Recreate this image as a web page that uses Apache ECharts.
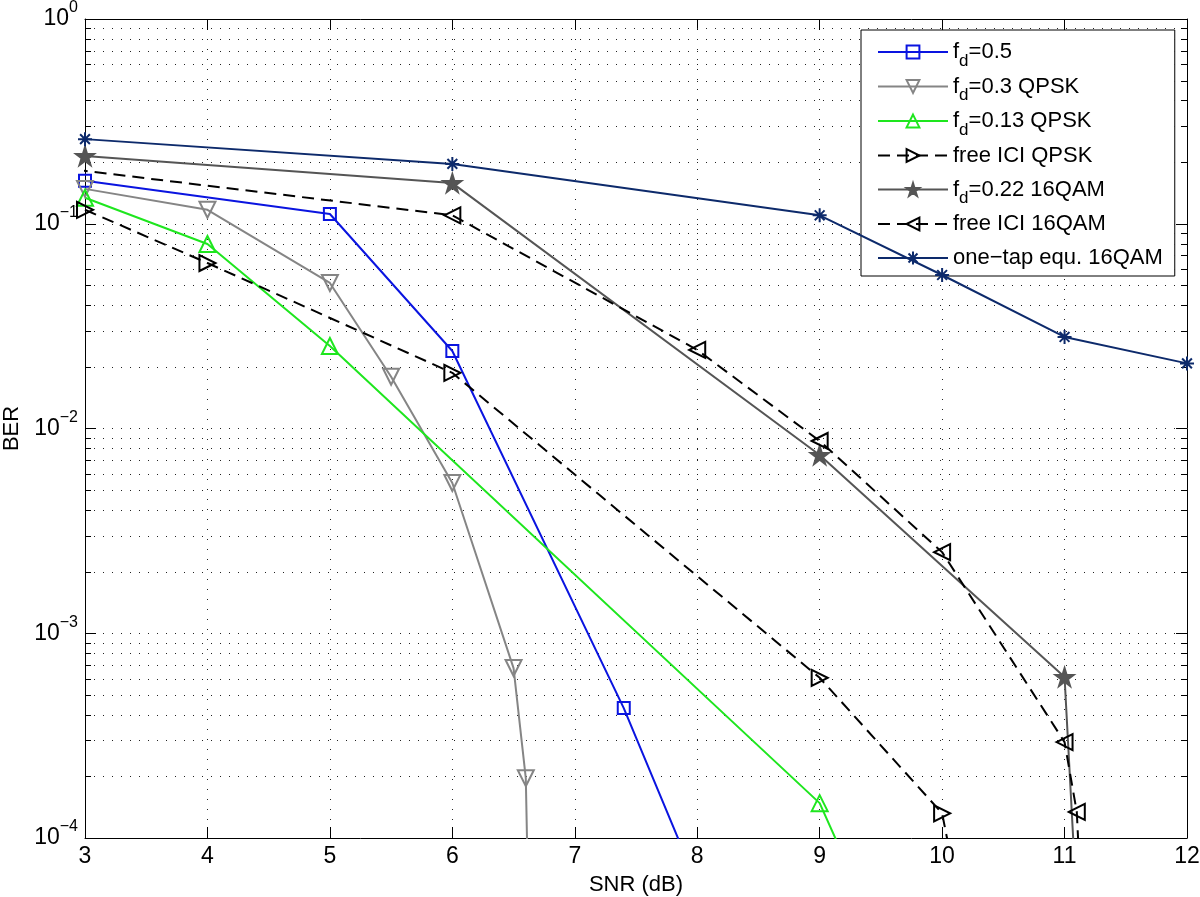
<!DOCTYPE html>
<html><head><meta charset="utf-8">
<script src="https://cdn.jsdelivr.net/npm/echarts@6/dist/echarts.min.js"></script>
<style>html,body{margin:0;padding:0;background:#fff}#c{width:1200px;height:897px}</style>
</head><body><div id="c"></div><script>
// ---- data ----
const seriesNames = ['f_d=0.5', 'f_d=0.3 QPSK', 'f_d=0.13 QPSK', 'free ICI QPSK', 'f_d=0.22 16QAM', 'free ICI 16QAM', 'one\u2212tap equ. 16QAM'];
const snrFd05 = [3, 5, 6, 7.4, 7.91];
const berFd05 = [0.162, 0.1116, 0.0239, 4.31e-4, 0.8e-4];
const snrFd03 = [3, 4, 5, 5.5, 6, 6.5, 6.6, 6.613];
const berFd03 = [0.148, 0.117, 0.0514, 0.0179, 0.00542, 6.76e-4, 1.96e-4, 0.8e-4];
const snrFd013 = [3, 4, 5, 9, 9.2];
const berFd013 = [0.134, 0.0796, 0.0253, 1.48e-4, 0.8e-4];
const snrFreeQpsk = [3, 4, 6, 9, 10, 10.072];
const berFreeQpsk = [0.117, 0.0643, 0.0187, 6.06e-4, 1.32e-4, 0.8e-4];
const snrFd022 = [3, 6, 9, 11, 11.079];
const berFd022 = [0.214, 0.158, 0.00742, 6.11e-4, 0.8e-4];
const snrFree16 = [2, 6, 8, 9, 10, 11, 11.1, 11.118];
const berFree16 = [0.214, 0.110, 0.0242, 0.00869, 0.00249, 2.94e-4, 1.34e-4, 0.8e-4];
const snrOneTap = [3, 6, 9, 10, 11, 12];
const berOneTap = [0.259, 0.196, 0.110, 0.0562, 0.0280, 0.0208];
const xTicks = [3, 4, 5, 6, 7, 8, 9, 10, 11, 12];
const minorBer = [];
[1e-4, 1e-3, 1e-2, 1e-1].forEach(d => { for (let k = 2; k <= 9; k++) minorBer.push(+(k * d).toPrecision(3)); });

// ---- styling ----
const FONT = '"Liberation Sans", Arial, Helvetica, sans-serif';
const starPath = 'path://M5 0 L6.12 3.45 L9.76 3.45 L6.82 5.59 L7.94 9.05 L5 6.91 L2.06 9.05 L3.18 5.59 L0.24 3.45 L3.88 3.45 Z';
const asteriskPath = 'path://M0 5 L10 5 M5 0 L5 10 M1.5 1.5 L8.5 8.5 M8.5 1.5 L1.5 8.5';
const zip = (xs, ys) => xs.map((x, i) => [x, ys[i]]);

function lineSeries(name, xs, ys, color, symbol, size, rotate, dashed, filled) {
  return {
    name, type: 'line', data: zip(xs, ys), clip: true,
    symbol, symbolSize: size, symbolRotate: rotate, showAllSymbol: true,
    lineStyle: { color, width: 2, type: dashed ? [12, 7] : 'solid' },
    itemStyle: { color: filled ? color : 'rgba(255,255,255,0)', borderColor: color, borderWidth: 2 },
    emphasis: { disabled: true }, z: 5
  };
}

const chart = echarts.init(document.getElementById('c'), null, { renderer: 'canvas' });
const yFmt = v => '{b|10}{s|' + String(Math.round(Math.log10(v))).replace('-', '\u2212') + '}';
const axisCommon = {
  axisLine: { show: true, onZero: false, lineStyle: { color: '#000', width: 1 } },
  axisTick: { show: true, inside: true, length: 11, lineStyle: { color: '#000', width: 1 } }
};
chart.setOption({
  animation: false,
  backgroundColor: '#fff',
  textStyle: { fontFamily: FONT },
  grid: { left: 85, right: 13, top: 19, bottom: 59, containLabel: false, outerBoundsMode: 'none' },
  xAxis: [
    Object.assign({
      type: 'value', min: xTicks[0], max: xTicks[xTicks.length - 1], interval: 1,
      name: 'SNR (dB)', nameLocation: 'middle', nameGap: 36,
      nameTextStyle: { fontSize: 22, color: '#000', fontFamily: FONT },
      axisLabel: { fontSize: 23, color: '#000', margin: 7, fontFamily: FONT },
      splitLine: { show: true, lineStyle: { color: '#222', width: 1, type: [1, 9] } }
    }, axisCommon),
    Object.assign({
      type: 'value', position: 'top', min: xTicks[0], max: xTicks[xTicks.length - 1], interval: 1,
      axisLabel: { show: false }, splitLine: { show: false }
    }, axisCommon)
  ],
  yAxis: [
    Object.assign({
      type: 'log', logBase: 10, min: 1e-4, max: 1,
      name: 'BER', nameLocation: 'middle', nameGap: 57,
      nameTextStyle: { fontSize: 22, color: '#000', fontFamily: FONT },
      axisLabel: {
        formatter: yFmt, margin: 7, color: '#000',
        rich: {
          b: { fontSize: 23, color: '#000', fontFamily: FONT, verticalAlign: 'middle' },
          s: { fontSize: 16, color: '#000', fontFamily: FONT, verticalAlign: 'middle', padding: [0, 0, 22, 0] }
        }
      },
      splitLine: { show: true, lineStyle: { color: '#222', width: 1, type: [1, 8] } }
    }, axisCommon),
    Object.assign({
      type: 'log', logBase: 10, min: 1e-4, max: 1, position: 'right',
      axisLabel: { show: false }, splitLine: { show: false }
    }, axisCommon)
  ],
  legend: {
    data: seriesNames,
    orient: 'vertical', left: 861, top: 30,
    backgroundColor: '#fff', borderColor: '#000', borderWidth: 1, borderRadius: 0,
    padding: [5, 12, 1, 16],
    itemWidth: 70, itemHeight: 16, itemGap: 0,
    selectedMode: false,
    formatter: n => n.indexOf('f_d') === 0 ? '{n|f}{sub|d}{n|' + n.slice(3) + '}' : '{n|' + n + '}',
    textStyle: {
      fontSize: 22, color: '#000', fontFamily: FONT, lineHeight: 34,
      rich: {
        n: { fontSize: 22, color: '#000', fontFamily: FONT, verticalAlign: 'middle' },
        sub: { fontSize: 17, color: '#000', fontFamily: FONT, verticalAlign: 'middle', padding: [18, 0, 0, 0] }
      }
    }
  },
  series: [
    {
      type: 'custom', name: 'minor', silent: true, z: 1,
      data: minorBer.map(v => [xTicks[0], v]),
      encode: { x: 0, y: 1 },
      renderItem: (params, api) => {
        const cs = params.coordSys;
        const y = Math.round(api.coord([api.value(0), api.value(1)])[1]) + 0.5;
        return {
          type: 'group', children: [
            { type: 'line', shape: { x1: cs.x, y1: y, x2: cs.x + cs.width, y2: y }, style: { stroke: '#222', lineWidth: 1, lineDash: [1, 8] } },
            { type: 'line', shape: { x1: cs.x, y1: y, x2: cs.x + 6, y2: y }, style: { stroke: '#000', lineWidth: 1 } },
            { type: 'line', shape: { x1: cs.x + cs.width - 6, y1: y, x2: cs.x + cs.width, y2: y }, style: { stroke: '#000', lineWidth: 1 } }
          ]
        };
      }
    },
    lineSeries(seriesNames[0], snrFd05, berFd05, '#0a14e0', 'rect', 12, 0, false, false),
    lineSeries(seriesNames[1], snrFd03, berFd03, '#858585', 'triangle', 16, 180, false, false),
    lineSeries(seriesNames[2], snrFd013, berFd013, '#1ee61e', 'triangle', 16, 0, false, false),
    lineSeries(seriesNames[3], snrFreeQpsk, berFreeQpsk, '#000000', 'triangle', 16, -90, true, false),
    lineSeries(seriesNames[4], snrFd022, berFd022, '#555555', starPath, 18, 0, false, true),
    lineSeries(seriesNames[5], snrFree16, berFree16, '#000000', 'triangle', 16, 90, true, false),
    Object.assign(lineSeries(seriesNames[6], snrOneTap, berOneTap, '#0d2a6b', asteriskPath, 14, 0, false, false),
      { itemStyle: { color: 'none', borderColor: '#0d2a6b', borderWidth: 2 } })
  ]
});
</script></body></html>
